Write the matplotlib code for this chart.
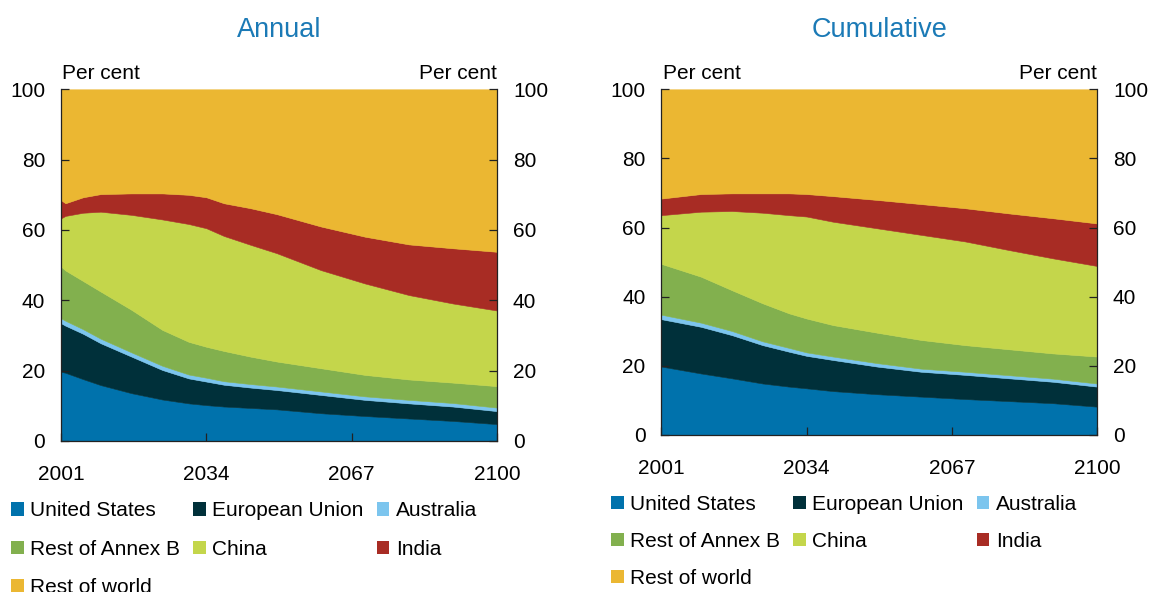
import matplotlib
matplotlib.use("Agg")
import matplotlib.pyplot as plt
from matplotlib.patches import Patch
import numpy as np

plt.rcParams['font.family'] = ['Liberation Sans', 'DejaVu Sans']

# ---------------- data ----------------
labels = ["United States", "European Union", "Australia", "Rest of Annex B",
          "China", "India", "Rest of world"]
colors = ["#0072AC", "#00303A", "#7CC5EE", "#82B04E", "#C4D64B", "#A82C24", "#EBB732"]

# Annual shares (per cent)
annual_years = [2001, 2002, 2006, 2010, 2017, 2024, 2030, 2034, 2038, 2044, 2050, 2060, 2070, 2080, 2090, 2100]
annual_us    = [19.7, 19.4, 17.6, 15.9, 13.6, 11.8, 10.7, 10.2, 9.8, 9.4, 9.0, 7.9, 7.1, 6.4, 5.7, 4.8]
annual_eu    = [13.8, 13.4, 12.9, 11.9, 10.4, 8.4, 7.1, 6.7, 6.2, 5.8, 5.5, 5.2, 4.6, 4.3, 4.1, 3.7]
annual_aus   = [1.4, 1.4, 1.3, 1.3, 1.2, 1.2, 1.1, 1.1, 1.0, 1.0, 1.0, 1.0, 1.0, 1.0, 1.0, 1.0]
annual_roab  = [14.7, 14.3, 13.7, 13.4, 12.1, 10.2, 9.3, 8.8, 8.6, 7.8, 7.1, 6.6, 6.1, 5.8, 5.8, 6.1]
annual_china = [13.7, 15.5, 19.4, 22.7, 27.0, 31.4, 33.5, 33.7, 32.7, 31.8, 30.8, 27.9, 26.0, 24.0, 22.5, 21.5]
annual_india = [5.2, 3.6, 4.4, 5.0, 6.1, 7.4, 8.3, 8.8, 9.3, 10.4, 11.1, 12.4, 13.3, 14.4, 15.7, 16.7]
annual_row   = [31.5, 32.4, 30.7, 29.8, 29.6, 29.6, 30.0, 30.7, 32.4, 33.8, 35.5, 39.0, 41.9, 44.1, 45.2, 46.2]

# Cumulative shares (per cent)
cum_years = [2001, 2010, 2017, 2024, 2030, 2034, 2040, 2050, 2060, 2070, 2080, 2090, 2100]
cum_us    = [19.8, 17.8, 16.4, 14.9, 14.0, 13.5, 12.7, 11.8, 11.1, 10.4, 9.8, 9.2, 8.2]
cum_eu    = [13.7, 13.5, 12.5, 11.1, 10.1, 9.4, 9.0, 8.0, 7.2, 7.0, 6.6, 6.2, 5.8]
cum_aus   = [1.3, 1.2, 1.2, 1.1, 1.1, 1.0, 1.0, 1.0, 0.9, 0.9, 0.9, 0.9, 0.9]
cum_roab  = [14.7, 13.3, 11.8, 11.0, 10.0, 9.8, 9.1, 8.8, 8.3, 7.7, 7.5, 7.3, 7.8]
cum_china = [14.1, 18.8, 22.9, 26.2, 28.4, 29.5, 29.9, 30.2, 30.4, 30.0, 28.7, 27.5, 26.2]
cum_india = [4.8, 5.1, 5.1, 5.6, 6.3, 6.5, 7.4, 8.2, 8.9, 9.6, 10.6, 11.6, 12.3]
cum_row   = [31.6, 30.3, 30.1, 30.1, 30.1, 30.3, 30.9, 32.0, 33.2, 34.4, 35.9, 37.3, 38.8]

xticks = [2001, 2034, 2067, 2100]
yticks = [0, 20, 40, 60, 80, 100]

# ---------------- figure ----------------
W, H = 1150, 592
fig = plt.figure(figsize=(W / 100, H / 100), dpi=100)
FS = 15
title_color = "#1B7AB6"


def px_rect(x0, y0, x1, y1):
    return [x0 / W, 1 - y1 / H, (x1 - x0) / W, (y1 - y0) / H]


panels = [
    dict(rect=px_rect(61, 89.3, 497, 441), title="Annual", years=annual_years,
         series=[annual_us, annual_eu, annual_aus, annual_roab, annual_china, annual_india, annual_row],
         leg=(11, 501.5), lsp=0.92),
    dict(rect=px_rect(661.4, 89.3, 1097, 435), title="Cumulative", years=cum_years,
         series=[cum_us, cum_eu, cum_aus, cum_roab, cum_china, cum_india, cum_row],
         leg=(611, 495), lsp=0.86),
]

order = [0, 3, 6, 1, 4, 2, 5]

for p in panels:
    ax = fig.add_axes(p["rect"])
    ax.stackplot(p["years"], *p["series"], colors=colors, edgecolor="face", linewidth=0.4)
    ax.set_xlim(2001, 2100)
    ax.set_ylim(0, 100)
    ax.set_xticks(xticks)
    ax.set_yticks(yticks)
    ax.tick_params(axis="y", which="both", direction="in", length=6, width=0.9,
                   left=True, right=True, labelleft=True, labelright=True,
                   labelsize=FS, pad=11.5, color="#222222")
    ax.tick_params(axis="x", direction="in", length=6, width=0.9, labelsize=FS, pad=17,
                   color="#222222")
    for s in ["left", "right", "bottom"]:
        ax.spines[s].set_linewidth(0.9)
        ax.spines[s].set_color("#222222")
    ax.spines["top"].set_visible(False)
    ax.text(0.003, 1.045, "Per cent", transform=ax.transAxes, ha="left", va="center", fontsize=FS)
    ax.text(1.0, 1.045, "Per cent", transform=ax.transAxes, ha="right", va="center", fontsize=FS)
    cx = (p["rect"][0] + p["rect"][2] / 2)
    fig.text(cx, 1 - 30 / H, p["title"], ha="center", va="center", fontsize=19.5, color=title_color)

    handles = [Patch(facecolor=colors[i], edgecolor="none") for i in order]
    labs = [labels[i] for i in order]
    ax.legend(handles, labs, loc="upper left",
              bbox_to_anchor=(p["leg"][0] / W, 1 - p["leg"][1] / H),
              bbox_transform=fig.transFigure, ncol=3, frameon=False,
              borderpad=0, borderaxespad=0, handlelength=0.62, handleheight=0.62,
              handletextpad=0.3, columnspacing=0.62, labelspacing=p["lsp"], fontsize=FS)

fig.savefig("out.png", dpi=100)
